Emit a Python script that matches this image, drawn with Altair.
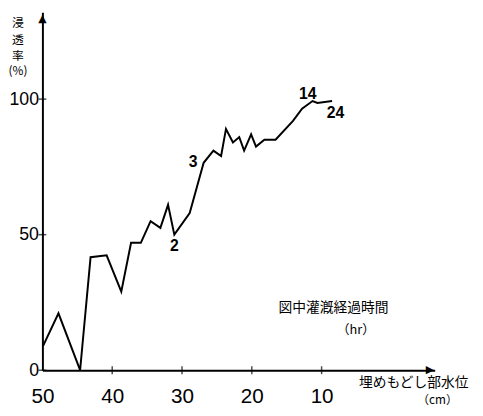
import altair as alt
import pandas as pd

# water level of backfill (cm) and infiltration rate (%)
level = [49.9, 47.7, 44.6, 43.1, 40.8, 38.7, 37.3, 35.9, 34.5, 33.1, 32.0, 31.1,
         28.9, 26.9, 25.5, 24.4, 23.7, 22.7, 21.8, 21.1, 20.1, 19.4, 18.2, 16.6,
         14.1, 12.8, 11.3, 10.6, 8.5]
rate = [9, 21, 0, 41.7, 42.4, 29, 47, 47, 55, 52.5, 61, 50,
        58, 76.5, 81, 79, 89, 84, 86, 81, 87, 82.5, 85, 85,
        92, 96.5, 99.3, 98.6, 99.3]

hour_labels = ["2", "3", "14", "24"]
hour_x = [31.1, 28.4, 12.0, 8.0]
hour_y = [45.7, 76.8, 101.8, 95.0]

x_ticks = [50, 40, 30, 20, 10]
y_ticks = [0, 50, 100]

ytitle_chars = ["浸", "透", "率", "(%)"]
ytitle_y = [128.0, 121.8, 116.0, 110.2]

X_DOM = [-6.2, 50]
Y_DOM = [0, 132]

df = pd.DataFrame({"x": level, "y": rate, "i": list(range(len(level)))})
ann = pd.DataFrame({"t": hour_labels, "x": hour_x, "y": hour_y})

xs = alt.Scale(domain=X_DOM, reverse=True, nice=False, zero=False)
ys = alt.Scale(domain=Y_DOM, nice=False)

xaxis = alt.Axis(values=x_ticks, ticks=False, grid=False, title=None,
                 domainColor="black", domainWidth=2, labelFontSize=21,
                 labelFont="Liberation Sans", labelColor="black",
                 labelPadding=16, format="d", labelFlush=False)
yaxis = alt.Axis(values=y_ticks, ticks=False, grid=False, title=None,
                 domainColor="black", domainWidth=2, labelFontSize=18,
                 labelFont="Liberation Sans", labelColor="black",
                 labelPadding=4, format="d")

line = alt.Chart(df).mark_line(color="black", strokeWidth=2).encode(
    x=alt.X("x:Q", scale=xs, axis=xaxis),
    y=alt.Y("y:Q", scale=ys, axis=yaxis),
    order="i:Q",
)

xt = alt.Chart(pd.DataFrame({"x": x_ticks[1:], "y": [0] * 4})).mark_tick(
    orient="vertical", size=8, thickness=1.5, color="black").encode(
    x=alt.X("x:Q", scale=xs), y=alt.Y("y:Q", scale=ys))
yt = alt.Chart(pd.DataFrame({"x": [50] * 3, "y": y_ticks})).mark_tick(
    orient="horizontal", size=8, thickness=1.5, color="black").encode(
    x=alt.X("x:Q", scale=xs), y=alt.Y("y:Q", scale=ys))

arrows = alt.Chart(pd.DataFrame({
    "t": ["▲", "▶"], "x": [50, -5.5], "y": [129.5, 0]
})).mark_text(font="DejaVu Sans", fontSize=11, color="black",
              align="center", baseline="middle").encode(
    x=alt.X("x:Q", scale=xs), y=alt.Y("y:Q", scale=ys), text="t:N")

labels = alt.Chart(ann).mark_text(font="Liberation Sans", fontSize=16,
                                  fontWeight="bold", color="black").encode(
    x=alt.X("x:Q", scale=xs), y=alt.Y("y:Q", scale=ys), text="t:N")

texts = pd.DataFrame({
    "t": ["図中灌漑経過時間", "（hr）", "埋めもどし部水位", "（cm）"],
    "x": [8.3, 5.1, -3.2, -6.6],
    "y": [22.8, 14.9, -4.9, -10.9],
    "s": [14, 13, 14, 12],
})
notes = alt.Chart(texts).mark_text(font="Noto Sans CJK JP", color="black").encode(
    x=alt.X("x:Q", scale=xs), y=alt.Y("y:Q", scale=ys), text="t:N",
    size=alt.Size("s:Q", scale=None, legend=None))

ytitle = alt.Chart(pd.DataFrame({"t": ytitle_chars, "x": [53.5] * 4, "y": ytitle_y})).mark_text(
    font="Noto Sans CJK JP", fontSize=12, color="black").encode(
    x=alt.X("x:Q", scale=xs), y=alt.Y("y:Q", scale=ys), text="t:N")

chart = alt.layer(line, xt, yt, arrows, labels, notes, ytitle).properties(
    width=399, height=364,
    padding={"left": 35, "right": 41, "top": 1, "bottom": 35},
    autosize=alt.AutoSizeParams(type="none"),
).configure_view(stroke=None)

chart.save("out.html", embed_options={"renderer": "svg", "actions": False})
